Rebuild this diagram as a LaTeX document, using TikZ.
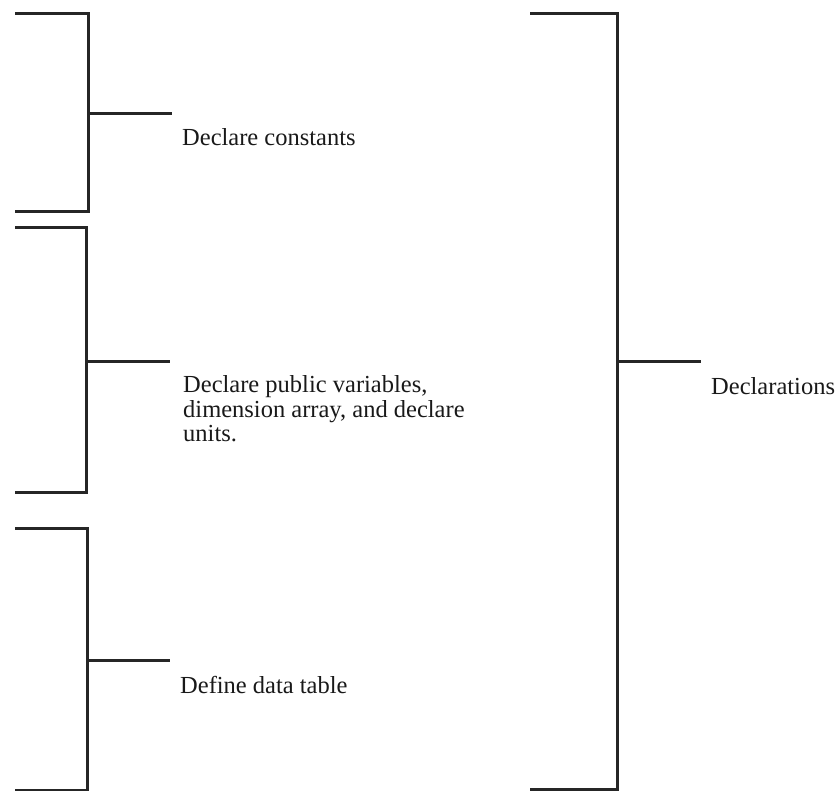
\documentclass[tikz,border=0pt]{standalone}
\usepackage{fontspec}
\setmainfont{Liberation Serif}
\begin{document}
\begin{tikzpicture}[x=1pt,y=-1pt,
  brk/.style={draw=black!85,line width=3pt,line cap=butt,line join=miter},
  lbl/.style={inner sep=0pt,font=\fontsize{24.5}{24.5}\selectfont,text=black!90,align=left}]
\useasboundingbox (0,0) rectangle (838,791);
% bracket 1
\coordinate (a1) at (15,14);
\coordinate (a2) at (88,14);
\coordinate (a3) at (88,212);
\coordinate (a4) at (15,212);
\coordinate (am) at (88,114);
\coordinate (at) at (172,114);
\draw[brk] (a1) -- (a2) -- (a3) -- (a4);
\draw[brk] (am) -- (at);
% bracket 2
\coordinate (b1) at (15,228);
\coordinate (b2) at (86,228);
\coordinate (b3) at (86,492);
\coordinate (b4) at (15,492);
\coordinate (bm) at (86,362);
\coordinate (bt) at (170,362);
\draw[brk] (b1) -- (b2) -- (b3) -- (b4);
\draw[brk] (bm) -- (bt);
% bracket 3
\coordinate (c1) at (15,528);
\coordinate (c2) at (87,528);
\coordinate (c3) at (87,790);
\coordinate (c4) at (15,790);
\coordinate (cm) at (87,660);
\coordinate (ct) at (170,660);
\draw[brk] (c1) -- (c2) -- (c3) -- (c4);
\draw[brk] (cm) -- (ct);
% big bracket
\coordinate (d1) at (530,14);
\coordinate (d2) at (617,14);
\coordinate (d3) at (617,789);
\coordinate (d4) at (530,789);
\coordinate (dm) at (617,362);
\coordinate (dt) at (701,362);
\draw[brk] (d1) -- (d2) -- (d3) -- (d4);
\draw[brk] (dm) -- (dt);
% labels
\node[lbl,anchor=base west] (la) at (182,146) {Declare constants};
\node[lbl,anchor=north west] (lb) at (183,375.5) {Declare public variables,\\dimension array, and declare\\units.};
\node[lbl,anchor=base west] (lc) at (180,693) {Define data table};
\node[lbl,anchor=base west] (ld) at (711,395) {Declarations};
\end{tikzpicture}
\end{document}
